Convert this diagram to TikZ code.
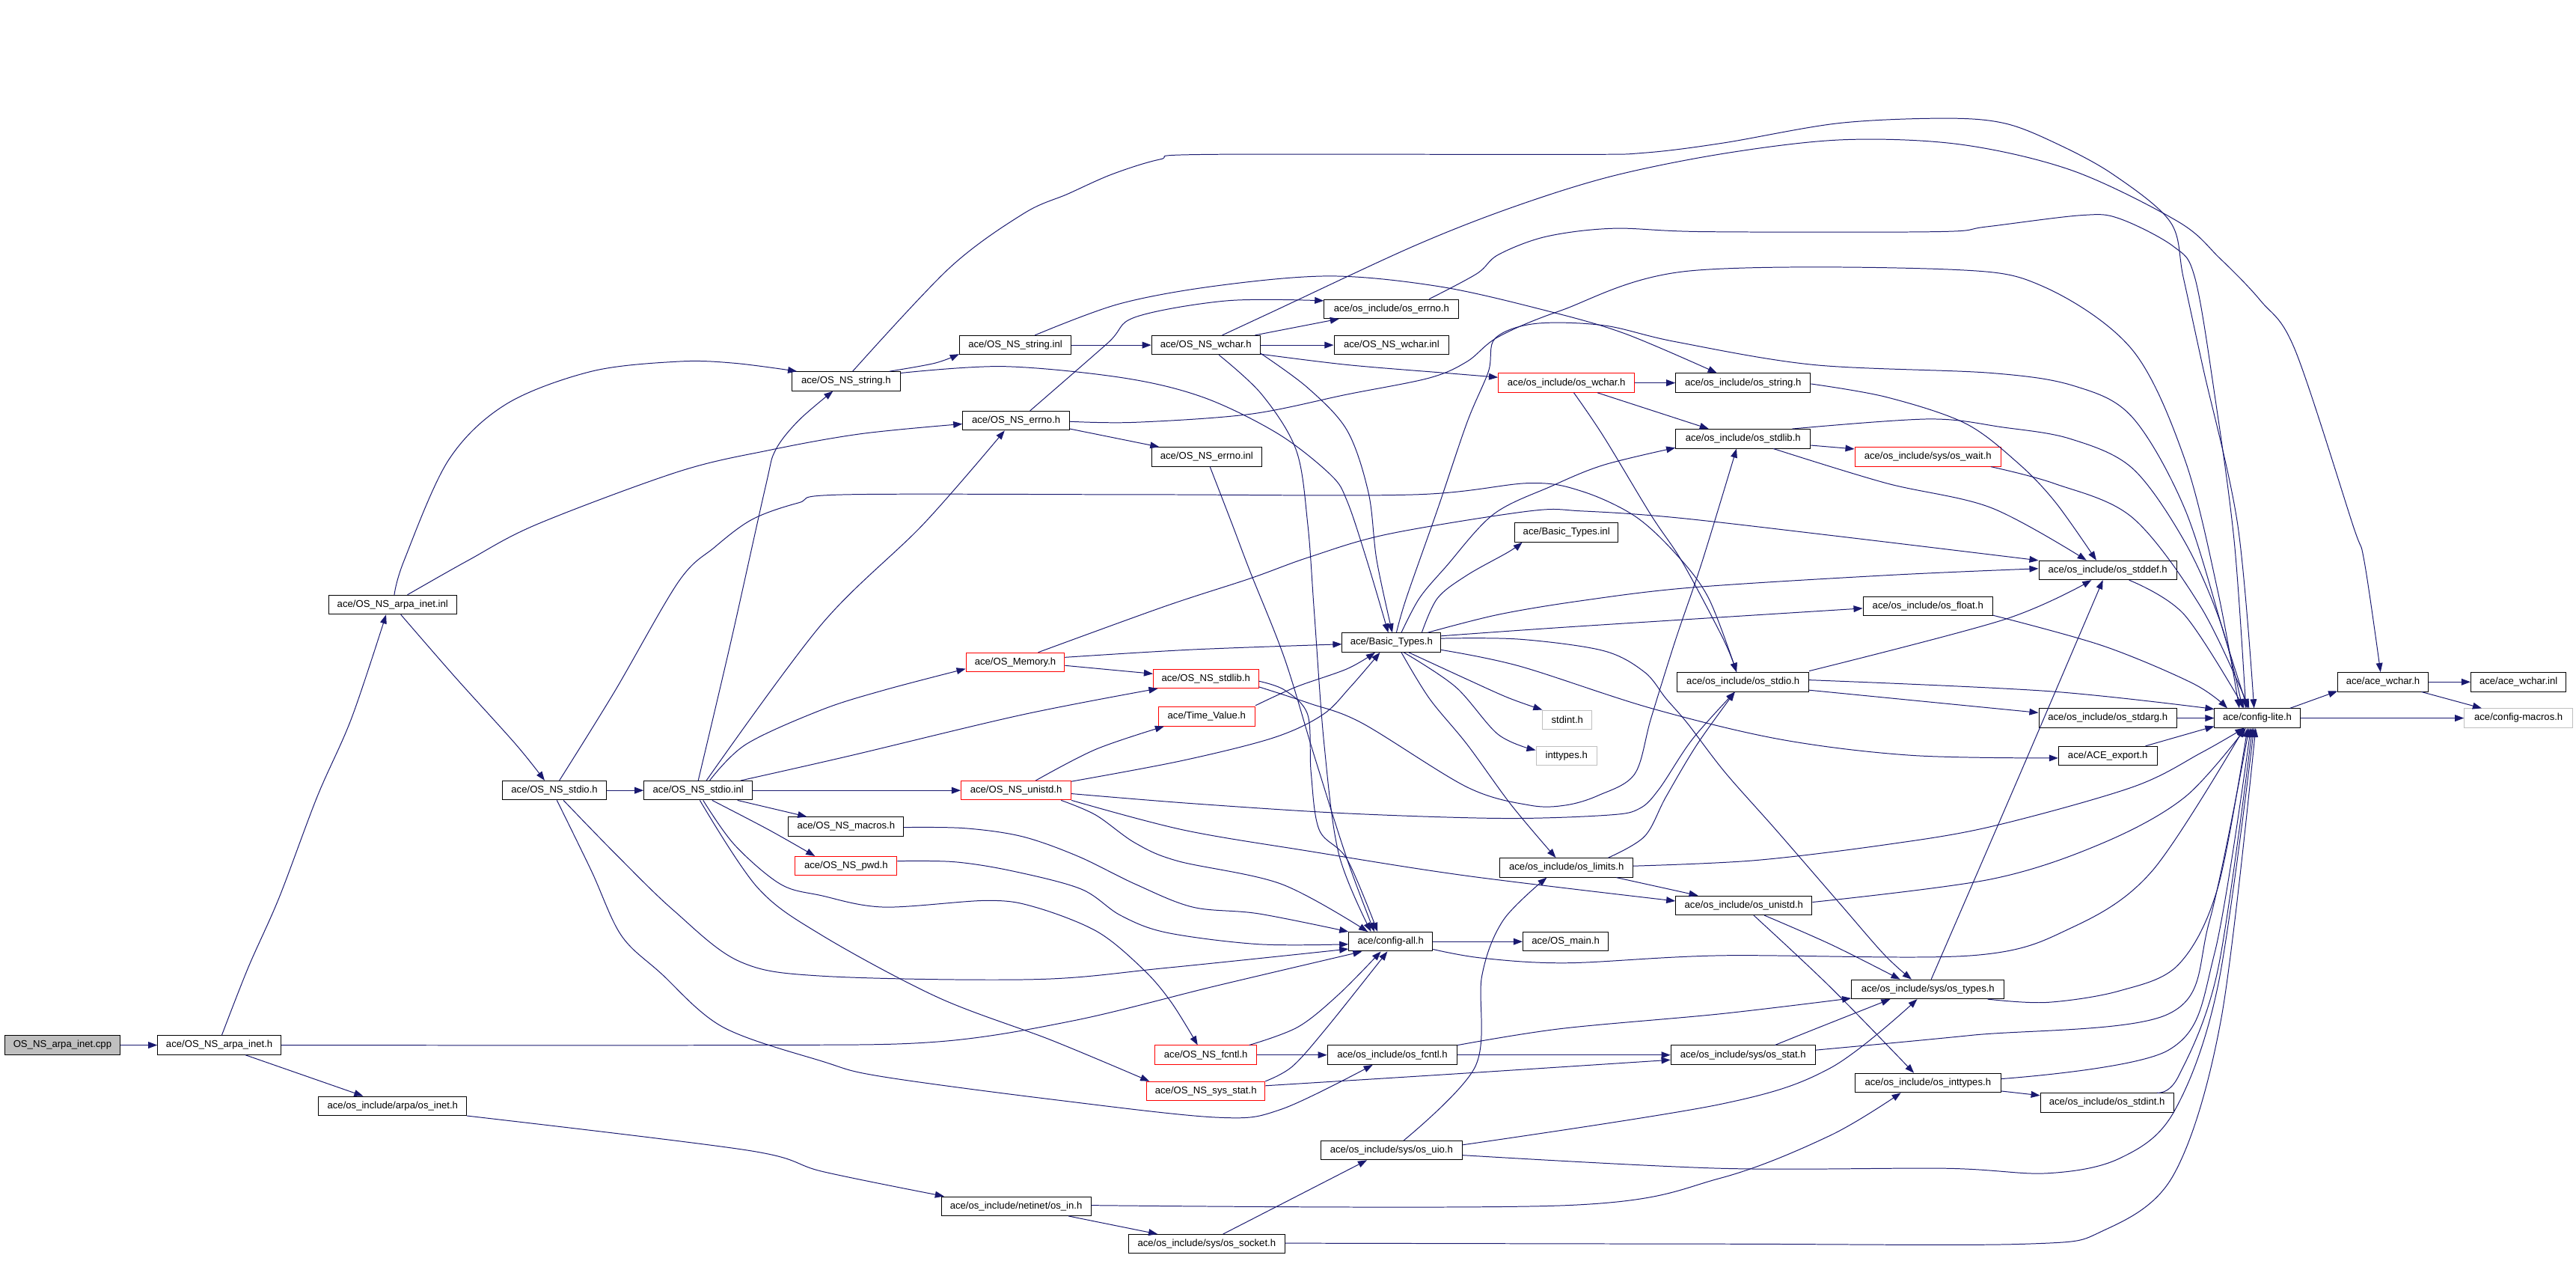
\documentclass[tikz,border=0pt]{standalone}
\usepackage{fontspec}
\setmainfont{Liberation Sans}
\usetikzlibrary{arrows.meta}
\definecolor{navy}{RGB}{25,25,112}
\definecolor{lgray}{RGB}{191,191,191}
\tikzset{
  box/.style={draw=black, line width=0.45bp, fill=white, inner sep=0pt, minimum height=11.6bp, font=\fontsize{6}{7}\selectfont},
  redbox/.style={box, draw=red},
  graybox/.style={box, draw=lgray},
  rootbox/.style={box, fill=lgray},
  edge/.style={draw=navy, line width=0.45bp, -{Triangle[length=5.5bp,width=4bp]}}
}
\newcommand\E[1]{\draw[edge] plot[smooth,tension=0.55] coordinates {#1};}
\begin{document}
\begin{tikzpicture}[x=1bp,y=-1bp]
\fill[white] (0,0) rectangle (1568,769);
\useasboundingbox (0,0) rectangle (1568,769);
% nodes
\node[rootbox, minimum width=70bp] (cpp) at (38,636) {OS\_NS\_arpa\_inet.cpp};
\node[box, minimum width=75bp] (arpa_inet_h) at (133.5,636) {ace/OS\_NS\_arpa\_inet.h};
\node[box, minimum width=90bp] (os_inet) at (239,673) {ace/os\_include/arpa/os\_inet.h};
\node[box, minimum width=78bp] (arpa_inet_inl) at (239,368) {ace/OS\_NS\_arpa\_inet.inl};
\node[box, minimum width=63bp] (ns_stdio_h) at (337.5,481) {ace/OS\_NS\_stdio.h};
\node[box, minimum width=66bp] (ns_stdio_inl) at (425,481) {ace/OS\_NS\_stdio.inl};
\node[box, minimum width=66bp] (ns_string_h) at (515,232) {ace/OS\_NS\_string.h};
\node[box, minimum width=68bp] (ns_string_inl) at (618,210) {ace/OS\_NS\_string.inl};
\node[box, minimum width=66bp] (ns_wchar_h) at (734,210) {ace/OS\_NS\_wchar.h};
\node[box, minimum width=82bp] (os_errno) at (847,188) {ace/os\_include/os\_errno.h};
\node[box, minimum width=70bp] (ns_wchar_inl) at (847,210) {ace/OS\_NS\_wchar.inl};
\node[box, minimum width=65bp] (ns_errno_h) at (618.5,256) {ace/OS\_NS\_errno.h};
\node[box, minimum width=67bp] (ns_errno_inl) at (734.5,278) {ace/OS\_NS\_errno.inl};
\node[redbox, minimum width=83bp] (os_wchar) at (953.5,233) {ace/os\_include/os\_wchar.h};
\node[box, minimum width=82bp] (os_string) at (1061,233) {ace/os\_include/os\_string.h};
\node[box, minimum width=82bp] (os_stdlib) at (1061,267) {ace/os\_include/os\_stdlib.h};
\node[redbox, minimum width=89bp] (os_wait) at (1173.5,278) {ace/os\_include/sys/os\_wait.h};
\node[box, minimum width=63bp] (bt_inl) at (953.5,324) {ace/Basic\_Types.inl};
\node[box, minimum width=60bp] (basic_types) at (847,391) {ace/Basic\_Types.h};
\node[redbox, minimum width=60bp] (os_memory) at (618,403) {ace/OS\_Memory.h};
\node[redbox, minimum width=64bp] (ns_stdlib) at (734,413) {ace/OS\_NS\_stdlib.h};
\node[redbox, minimum width=59bp] (time_value) at (734.5,436) {ace/Time\_Value.h};
\node[redbox, minimum width=67bp] (ns_unistd) at (618.5,481) {ace/OS\_NS\_unistd.h};
\node[box, minimum width=70bp] (ns_macros) at (515,503) {ace/OS\_NS\_macros.h};
\node[redbox, minimum width=62bp] (ns_pwd) at (515,527) {ace/OS\_NS\_pwd.h};
\node[box, minimum width=84bp] (os_stddef) at (1283,347) {ace/os\_include/os\_stddef.h};
\node[box, minimum width=79bp] (os_float) at (1173.5,369) {ace/os\_include/os\_float.h};
\node[box, minimum width=80bp] (os_stdio) at (1061,415) {ace/os\_include/os\_stdio.h};
\node[box, minimum width=84bp] (os_stdarg) at (1283,437) {ace/os\_include/os\_stdarg.h};
\node[box, minimum width=60bp] (ace_export) at (1283,460) {ace/ACE\_export.h};
\node[graybox, minimum width=30bp] (stdint) at (954,438) {stdint.h};
\node[graybox, minimum width=37bp] (inttypes) at (953.5,460) {inttypes.h};
\node[box, minimum width=81bp] (os_limits) at (953.5,528) {ace/os\_include/os\_limits.h};
\node[box, minimum width=83bp] (os_unistd) at (1061.5,551) {ace/os\_include/os\_unistd.h};
\node[box, minimum width=51bp] (config_all) at (846.5,573) {ace/config-all.h};
\node[box, minimum width=52bp] (os_main) at (953,573) {ace/OS\_main.h};
\node[box, minimum width=93bp] (os_types) at (1173.5,602) {ace/os\_include/sys/os\_types.h};
\node[redbox, minimum width=62bp] (ns_fcntl) at (734,642) {ace/OS\_NS\_fcntl.h};
\node[box, minimum width=79bp] (os_fcntl) at (847.5,642) {ace/os\_include/os\_fcntl.h};
\node[redbox, minimum width=72bp] (ns_sys_stat) at (734,664) {ace/OS\_NS\_sys\_stat.h};
\node[box, minimum width=88bp] (os_stat) at (1061,642) {ace/os\_include/sys/os\_stat.h};
\node[box, minimum width=89bp] (os_inttypes) at (1173.5,659) {ace/os\_include/os\_inttypes.h};
\node[box, minimum width=81bp] (os_stdint) at (1282.5,671) {ace/os\_include/os\_stdint.h};
\node[box, minimum width=86bp] (os_uio) at (847,700) {ace/os\_include/sys/os\_uio.h};
\node[box, minimum width=91bp] (os_in) at (618.5,734) {ace/os\_include/netinet/os\_in.h};
\node[box, minimum width=95bp] (os_socket) at (734.5,757) {ace/os\_include/sys/os\_socket.h};
\node[box, minimum width=52bp] (config_lite) at (1374,437) {ace/config-lite.h};
\node[box, minimum width=55bp] (ace_wchar) at (1450.5,415) {ace/ace\_wchar.h};
\node[box, minimum width=58bp] (ace_wchar_inl) at (1533,415) {ace/ace\_wchar.inl};
\node[graybox, minimum width=66bp] (config_macros) at (1533,437) {ace/config-macros.h};
% edges
\draw[edge] (cpp) -- (arpa_inet_h);
\E{([xshift=1.5]arpa_inet_h.north) (151,589) (170,546) (193,485) (214,437) ([xshift=-4]arpa_inet_inl.south)}
\E{(arpa_inet_h.east) (455,636) (570,634) (654,621) (740,600) ([xshift=-17.5]config_all.south)}
\draw[edge] ([xshift=16]arpa_inet_h.south) -- ([xshift=-18]os_inet.north);
\E{(os_inet.south east) (455,700) (501,713) ([xshift=-44]os_in.north)}
\E{([xshift=1]arpa_inet_inl.north) (246,341) (273,280) (308,246) (360,226) (413,220) (447,221) ([xshift=-30]ns_string_h.north)}
\E{([xshift=9]arpa_inet_inl.north) (285,341) (327,319) (413,287) (468,274) (524,264) ([yshift=-2]ns_errno_h.west)}
\E{([xshift=5]arpa_inet_inl.south) (277,412) (314,453) ([xshift=-6]ns_stdio_h.north)}
\draw[edge] (ns_stdio_h) -- (ns_stdio_inl);
\E{([xshift=3]ns_stdio_h.north) (374,421) (413,354) (435,333) (458,316) (486,306) (514,301) (700,301) (861,301) (931,294) (963,299) (995,314) (1020,337) (1040,364) ([xshift=-4]os_stdio.north)}
\E{([xshift=5.5]ns_stdio_h.south) (375,520) (410,554) (450,585) (501,594) (630,596) (710,589) ([yshift=-4.5]config_all.west)}
\E{([xshift=1.5]ns_stdio_h.south) (360,530) (378,569) (402,592) (440,625) (501,646) (536,655) (640,669) (741,680) (780,675) ([xshift=-12]os_fcntl.south)}
\E{(ns_stdio_inl.north) (445,390) (466,296) (472,274) (486,256) ([xshift=-8]ns_string_h.south)}
\E{([xshift=5]ns_stdio_inl.north) (500,380) (562,319) ([xshift=-7]ns_errno_h.south)}
\E{([xshift=7]ns_stdio_inl.north) (454,453) (500,432) (538,420) ([yshift=-4]os_memory.west)}
\E{([xshift=26]ns_stdio_inl.north) (517,460) (622,435) ([xshift=3]ns_stdlib.south west)}
\draw[edge] (ns_stdio_inl) -- (ns_unistd);
\draw[edge] ([xshift=24]ns_stdio_inl.south) -- ([xshift=-24]ns_macros.north);
\E{([xshift=8.5]ns_stdio_inl.south) (468,505) ([xshift=-19]ns_pwd.north)}
\E{([xshift=3]ns_stdio_inl.south) (447,514) (475,538) (500,545) (538,552) (601,548) (630,552) (668,567) (696,590) (713,610) ([xshift=-5]ns_fcntl.north)}
\E{([xshift=1]ns_stdio_inl.south) (461,540) (500,569) (571,607) (640,633) ([xshift=-34.5]ns_sys_stat.north)}
\E{([xshift=26.5]ns_string_h.north) (569,221) ([yshift=-5.5]ns_string_inl.west)}
\E{([xshift=4]ns_string_h.north) (578,163) (623,130) (650,118) (677,106) (706,97) (734,94) (956,94) (1001,93) (1049,87) (1119,75) (1184,72) (1220,75) (1251,87) (1286,106) (1321,135) (1329,169) (1341,224) (1362,319) ([xshift=-2]config_lite.north)}
\E{([yshift=5]ns_string_h.east) (611,223) (684,230) (733,242) (778,264) (810,289) (820,305) (832,341) ([xshift=-2]basic_types.north)}
\draw[edge] (ns_string_inl) -- (ns_wchar_h);
\E{([xshift=12]ns_string_inl.north) (681,185) (740,174) (810,168) (877,174.5) (941,189) (989,203) ([xshift=-16]os_string.north)}
\draw[edge] ([xshift=30]ns_wchar_h.north) -- ([xshift=-32]os_errno.south);
\draw[edge] (ns_wchar_h) -- (ns_wchar_inl);
\E{([yshift=-5.5]ns_wchar_h.east) (820,222) (880,227) ([yshift=3.4]os_wchar.west)}
\E{([xshift=10]ns_wchar_h.north) (774,190) (860,150) (921,126) (982,107) (1052,93) (1123,85) (1194,88) (1262,104) (1326,135) (1351,157) (1376,183) (1397,213) (1432,319) (1439,341) ([xshift=-1.5]ace_wchar.north)}
\E{([yshift=-5]ns_wchar_h.east) (796,236) (820,262) (833,300) (838,341) ([xshift=0.5]basic_types.north)}
\E{([xshift=8]ns_wchar_h.south) (768,240) (789,274) (796,319) (800,373) (806,453) (815,520) ([xshift=-12]config_all.north)}
\E{([xshift=23]os_errno.north) (899,166.5) (912,155) (941,144) (982,139) (1037,141) (1179,141) (1209,138) (1267,131) (1290,133) (1323,150) (1336,169) (1348,240) (1360,330) ([xshift=-7]config_lite.north)}
\E{([xshift=8.5]ns_errno_h.north) (674,209) (691,193) (747,183) ([yshift=5]os_errno.west)}
\draw[edge] ([yshift=-5]ns_errno_h.east) -- ([xshift=-29]ns_errno_inl.north);
\E{([yshift=-0.5]ns_errno_h.east) (691,257) (761,252) (820,240) (870,230) (893,220) (912,205) (950,189) (1027,165) (1187,164) (1244,174.5) (1298,213) (1330,280) (1350,360) ([xshift=-11]config_lite.north)}
\E{([xshift=2]ns_errno_inl.south) (750,319) (761,348) (782,401) (800,460) (820,523) ([xshift=-10]config_all.north)}
\draw[edge] (os_wchar) -- (os_string);
\draw[edge] ([xshift=19]os_wchar.south) -- ([xshift=-21]os_stdlib.north);
\E{([xshift=4.5]os_wchar.south) (976,265.5) (1005,313.5) (1024,342) (1049,389) ([xshift=-4]os_stdio.north)}
\E{([yshift=-0.6]os_string.east) (1148,241.6) (1196,257.5) (1228,281.5) (1251,305.5) ([xshift=-7]os_stddef.north)}
\draw[edge] ([yshift=-4]os_stdlib.east) -- ([yshift=4.8]os_wait.west);
\E{([xshift=30]os_stdlib.north) (1174,255) (1219,260) (1260,267) (1298,285) (1330,330) (1352,380) ([xshift=-9]config_lite.north)}
\E{([xshift=18.5]os_stdlib.south) (1148,294) (1212,309) ([xshift=-13]os_stddef.north)}
\E{([xshift=38.5]os_wait.south) (1250.6,294.3) (1298,315) (1340,370) ([xshift=-5]config_lite.north)}
\E{([xshift=18.5]basic_types.north) (875,364) (893,350) (918,336) ([xshift=-27]bt_inl.south)}
\E{([xshift=6]basic_types.north) (864,364) (880,345) (909,313) (944,296) (976,283) ([yshift=-5.5]os_stdlib.west)}
\E{([xshift=3]basic_types.north) (856,364) (875,310) (893,257) (906,226) (910,206) (934,197) (976,198) (1020,208) (1104,222) (1212,227) (1263,235) (1298,254) (1330,310) (1355,390) ([xshift=-6]config_lite.north)}
\E{([xshift=22]basic_types.north) (912,374) (963,365.5) (1030,357.5) (1150,350) ([yshift=1]os_stddef.west)}
\E{([yshift=4]basic_types.east) (957,381.4) ([yshift=-1.2]os_float.west)}
\E{([yshift=2.5]basic_types.east) (925,389) (976,396) (1001,409) (1014,425) (1027,440) (1050,470) (1081,505) (1120,550) (1147,581) ([xshift=-10]os_types.north)}
\E{([yshift=-4.5]basic_types.east) (925,405.4) (1005,431) (1084,450) (1164,459.7) ([yshift=-1.3]ace_export.west)}
\E{([xshift=10.5]basic_types.south) (893,413.4) (918,424.6) (stdint.north west)}
\E{([xshift=7.5]basic_types.south) (886,418) (912,447) ([yshift=3.5]inttypes.west)}
\E{([xshift=6]basic_types.south) (870,425) (893,453) (920,490) ([xshift=-6.5]os_limits.north)}
\E{([yshift=3]os_memory.east) (726,395.3) ([yshift=-1]basic_types.west)}
\draw[edge] ([yshift=-2]os_memory.east) -- ([yshift=3]ns_stdlib.west);
\E{([xshift=14]os_memory.north) (709,369) (761,352) (797,339) (845,325) (931,311) (963,311) (1020,315) (1116,326) ([yshift=6]os_stddef.west)}
\E{([yshift=-1.5]ns_stdlib.east) (782,420) (796,435) (798,470) (803,505) (820,523) ([xshift=-8]config_all.north)}
\E{([yshift=-2]ns_unistd.east) (726,489) (820,495) (915,498) (979,496) (998,492) (1010,480) (1030,450) ([xshift=-5]os_stdio.south)}
\E{([yshift=-5]ns_stdlib.east) (797,428) (829,440) (893,479) (931,490) (953,490) (973,484) (995,471) (1005,437) (1020,389) (1036,342) ([xshift=-4]os_stdlib.south)}
\E{([yshift=6.7]time_value.east) (789,418) (820,407) ([xshift=-10]basic_types.south)}
\E{([xshift=12]ns_unistd.north) (667,456) ([xshift=-26]time_value.south)}
\E{([yshift=5.5]ns_unistd.east) (719,463) (775,449) (805,435) (822,418) ([xshift=-7]basic_types.south)}
\E{(ns_unistd.south east) (720,505) (797,518) (893,533) ([yshift=2.7]os_unistd.west)}
\E{([xshift=27.5]ns_unistd.south) (667,496) (691,513) (717,524) (780,538) ([xshift=-14]config_all.north)}
\E{([yshift=-0.5]ns_macros.east) (587,504) (622,509) (656,521) (691,538) (726,552) (766,556) (config_all.north west)}
\E{([yshift=3]ns_pwd.east) (581,524.5) (616,530) (658,541) (682,557) (710,567.5) (766,574.6) ([yshift=-1.6]config_all.west)}
\draw[edge] (ns_fcntl) -- (os_fcntl);
\E{([xshift=26.5]ns_fcntl.north) (790,625) (815,605) ([xshift=-6]config_all.south)}
\E{([yshift=3.3]ns_sys_stat.east) (884,653.6) ([yshift=-3]os_stat.west)}
\E{(ns_sys_stat.north east) (786.6,649) (807.5,625.5) ([xshift=-2]config_all.south)}
\draw[edge] (config_all) -- (os_main);
\E{([yshift=-4.7]config_all.east) (902,583) (954,586) (1047,581.5) (1200,581.5) (1260,565) (1310,530) ([xshift=-8]config_lite.south)}
\E{([xshift=25.5]os_limits.north) (1001,509) (1014,485) (1033,453) ([xshift=-5]os_stdio.south)}
\draw[edge] ([xshift=30.5]os_limits.south) -- ([xshift=-28]os_unistd.north);
\E{([yshift=1]os_limits.east) (1068,523.6) (1148,514) (1212,503) (1298,479) (1340,458) ([xshift=-8]config_lite.south)}
\E{([yshift=2]os_unistd.east) (1212,535) (1280,513) (1330,485) ([xshift=-7]config_lite.south)}
\E{([xshift=12.5]os_unistd.south) (1115,575) ([xshift=-17]os_types.north)}
\E{([xshift=6]os_unistd.south) (1114,600.6) ([xshift=-8.5]os_inttypes.north)}
\E{([xshift=2]os_types.north) (1230,470) ([xshift=-3]os_stddef.south)}
\E{([xshift=36.5]os_types.south) (1246,610) (1290,603) (1326,587) (1350,540) ([xshift=-6]config_lite.south)}
\E{([yshift=6]os_fcntl.east) (950,626) (1047,617) ([yshift=-5.5]os_types.west)}
\draw[edge] (os_fcntl) -- (os_stat);
\E{([xshift=19.5]os_stat.north) (1104,626.5) ([xshift=-23]os_types.south)}
\E{([yshift=3]os_stat.east) (1200,630) (1320,617) (1345,560) ([xshift=-5]config_lite.south)}
\draw[edge] ([yshift=-5]os_inttypes.east) -- ([yshift=4.4]os_stdint.west);
\E{([yshift=2.5]os_inttypes.east) (1320,639) (1348,580) ([xshift=-4]config_lite.south)}
\E{([xshift=30.5]os_stdint.north) (1326,655) (1350,590) ([xshift=-3]config_lite.south)}
\E{([xshift=7.5]os_uio.north) (898,649) (902,594) (915,560) ([xshift=-12]os_limits.south)}
\E{([yshift=3.3]os_uio.east) (1047,672) (1114,650) ([xshift=-6.5]os_types.south)}
\E{([yshift=-3]os_uio.east) (1047,711) (1184,711) (1246,714) (1290,705) (1323,677) (1350,600) ([xshift=-2]config_lite.south)}
\E{([yshift=0.5]os_in.east) (954,733.5) (1047,717) (1114,691) ([xshift=-16.5]os_inttypes.south)}
\draw[edge] ([xshift=32]os_in.south) -- ([xshift=-30]os_socket.north);
\draw[edge] ([xshift=10]os_socket.north) -- ([xshift=-15]os_uio.south);
\E{([yshift=0.5]os_socket.east) (1047,757) (1233,757) (1280,749) (1323,715) (1352,620) ([xshift=-1]config_lite.south)}
\E{([xshift=13]os_stddef.south) (1329.5,374) ([xshift=-8]config_lite.north)}
\E{([yshift=-5.5]os_float.east) (1280,393) (1335,416) ([xshift=8]config_lite.north west)}
\E{([yshift=6.7]os_stdio.east) (1220,377) ([xshift=-10]os_stddef.south)}
\E{([yshift=1.2]os_stdio.east) (1246.5,420.6) ([yshift=5.5]config_lite.west)}
\draw[edge] ([yshift=-5]os_stdio.east) -- ([yshift=3.3]os_stdarg.west);
\draw[edge] (os_stdarg) -- (config_lite);
\draw[edge] ([xshift=23]ace_export.north) -- ([yshift=-5]config_lite.west);
\draw[edge] ([xshift=20]config_lite.north) -- ([yshift=-5.6]ace_wchar.west);
\draw[edge] (config_lite) -- (config_macros);
\draw[edge] (ace_wchar) -- (ace_wchar_inl);
\draw[edge] ([xshift=23.5]ace_wchar.south) -- ([xshift=-22.5]config_macros.north);
\end{tikzpicture}
\end{document}
